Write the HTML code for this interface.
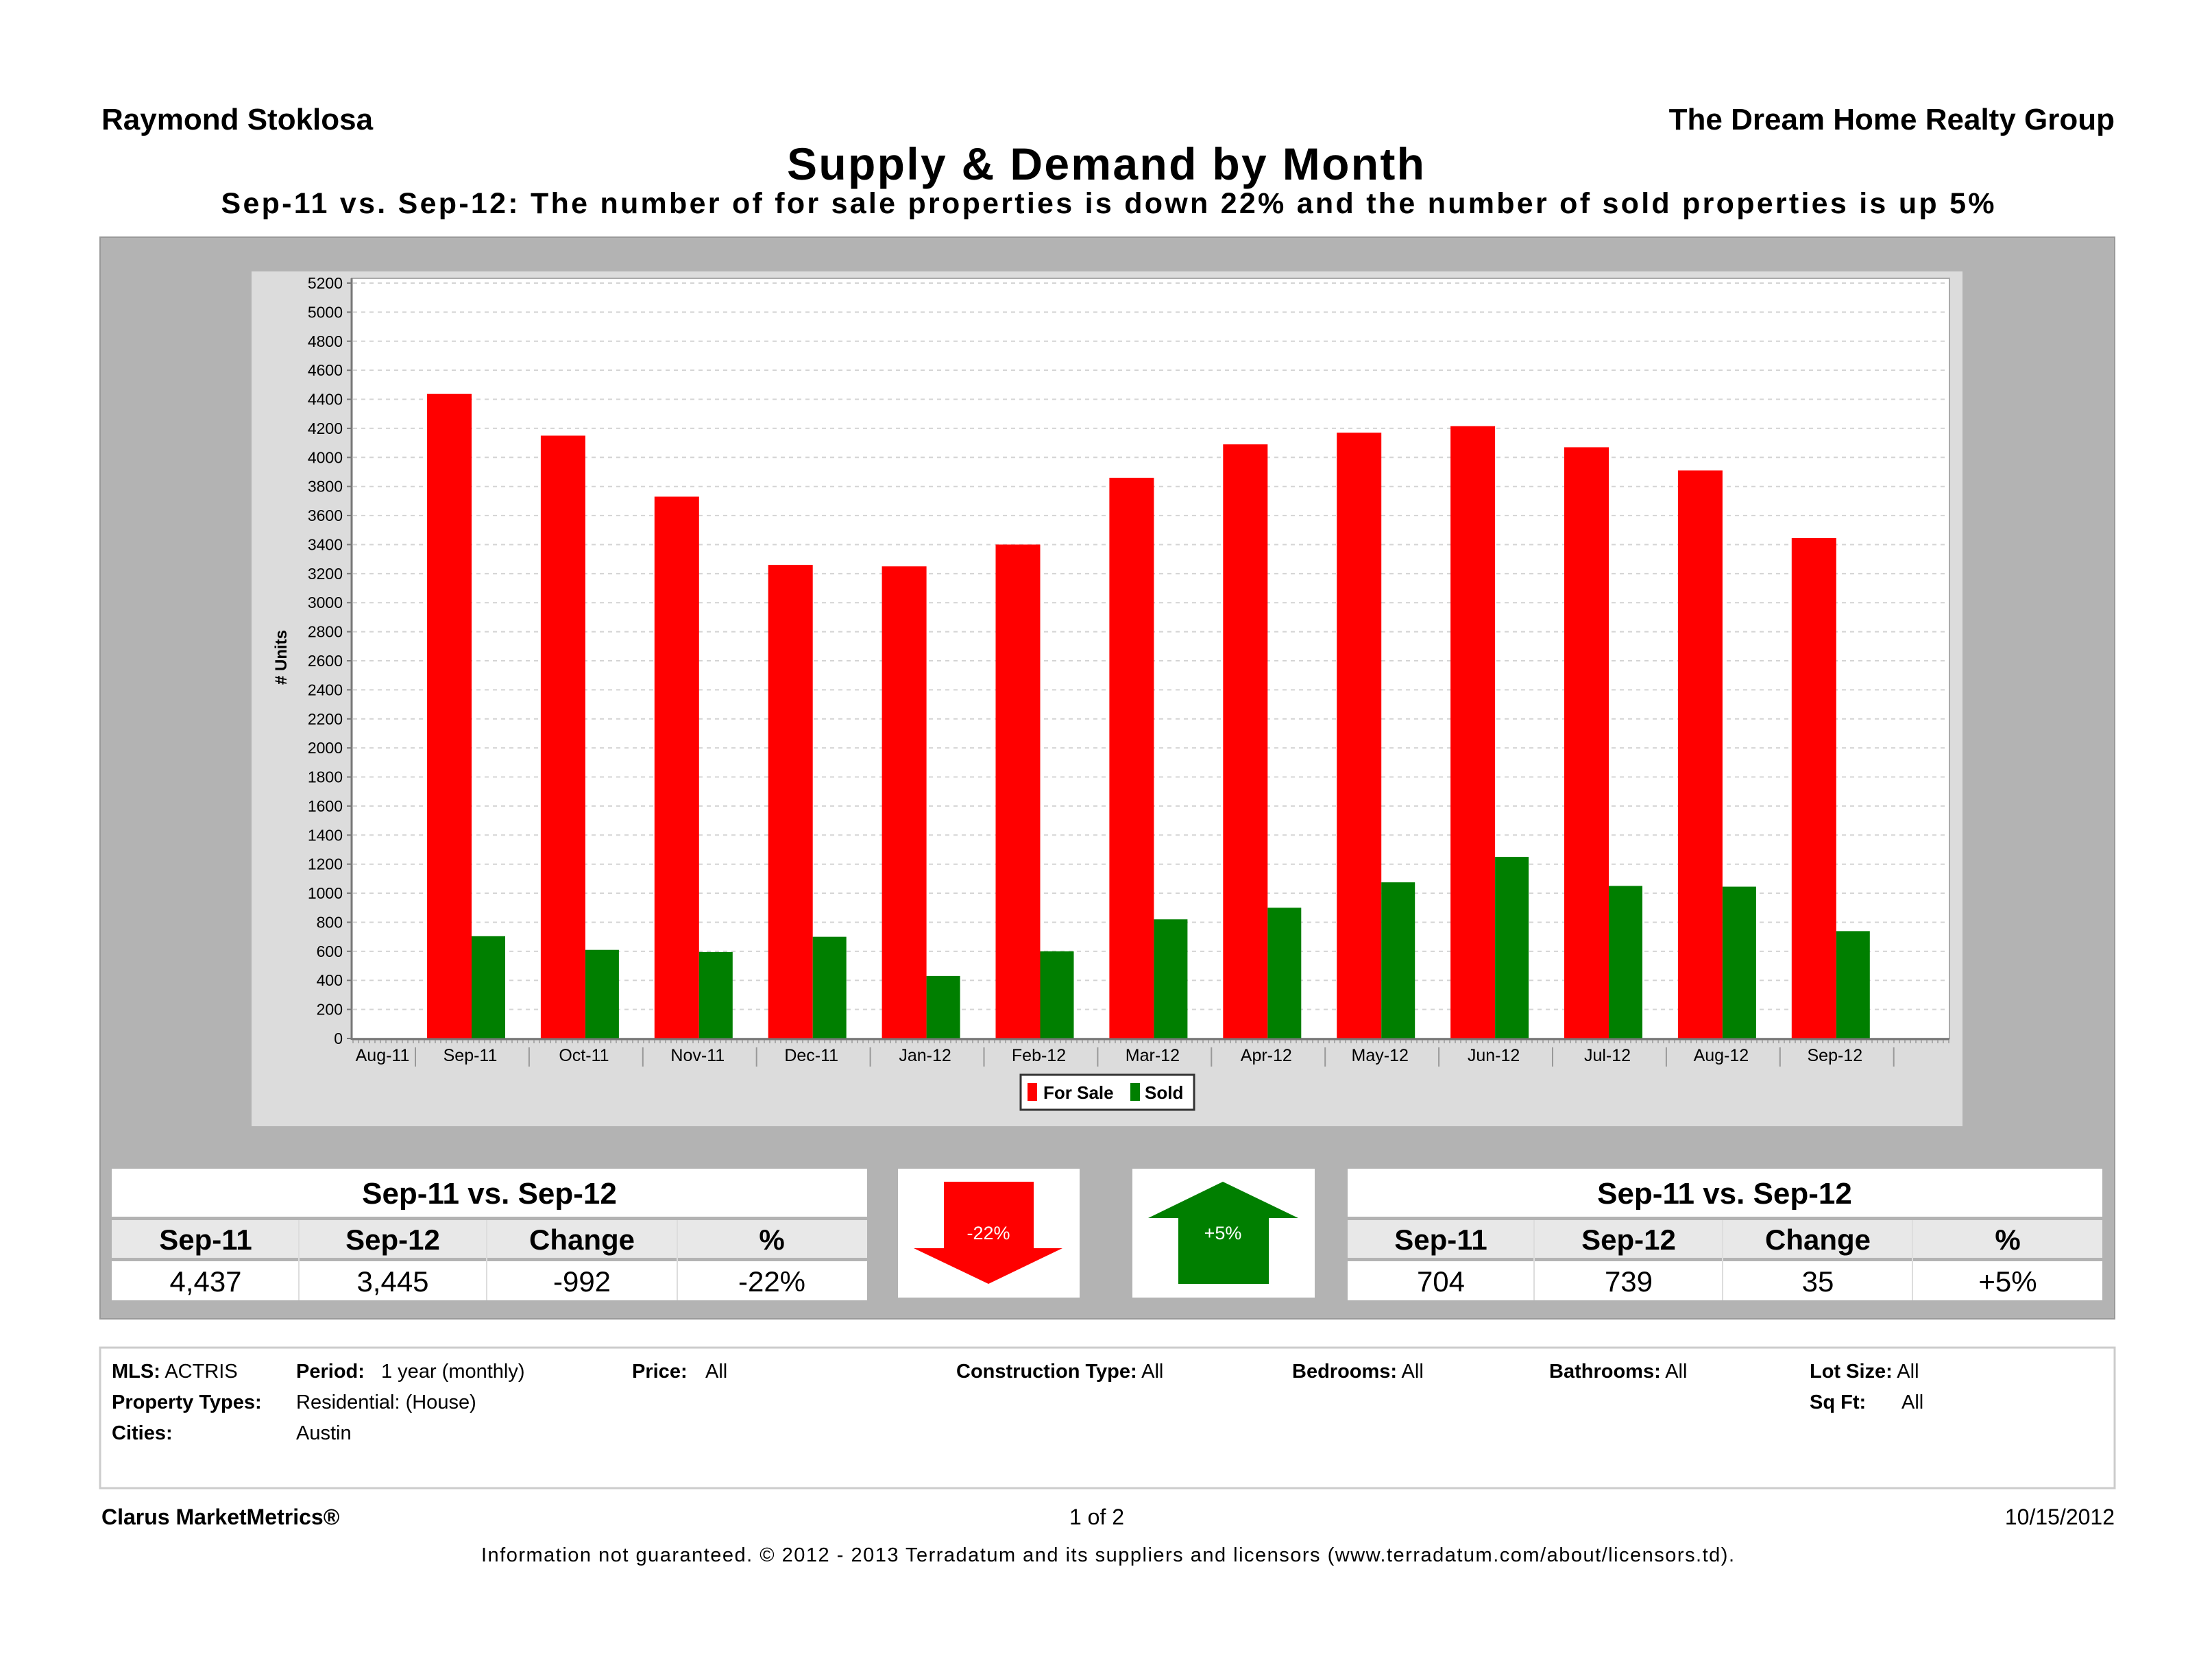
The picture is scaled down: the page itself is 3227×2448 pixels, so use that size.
<!DOCTYPE html>
<html><head><meta charset="utf-8"><style>
html,body{margin:0;padding:0;background:#fff;}
svg{display:block;font-family:"Liberation Sans","DejaVu Sans",sans-serif;}
</style></head><body>
<svg id="page" width="3227" height="2448" viewBox="0 0 3227 2448">
<text x="148" y="189" font-size="44" font-weight="bold">Raymond Stoklosa</text>
<text x="3085" y="189" font-size="44" font-weight="bold" text-anchor="end">The Dream Home Realty Group</text>
<text x="1613" y="262" font-size="66" font-weight="bold" text-anchor="middle" textLength="930">Supply &amp; Demand by Month</text>
<text x="1616" y="311" font-size="43" font-weight="bold" text-anchor="middle" textLength="2587">Sep-11 vs. Sep-12:  The number of for sale properties is down 22% and the number of sold properties is up 5%</text>

<rect x="146" y="346" width="2939" height="1578" fill="#b3b3b3" stroke="#999" stroke-width="2"/>
<rect x="367" y="396" width="2496" height="1247" fill="#dcdcdc"/>
<rect x="513" y="406" width="2331" height="1109" fill="#fff" stroke="#aaa" stroke-width="2"/>
<g id="grid"></g><g id="bars"></g><g id="axes"></g>
<text transform="translate(418,959) rotate(-90)" font-size="24" font-weight="bold" text-anchor="middle"># Units</text>

<g>
<rect x="1489" y="1568" width="253" height="51" fill="#fff" stroke="#333" stroke-width="3"/>
<rect x="1499" y="1580" width="14" height="26" fill="#f00"/>
<text x="1522" y="1603" font-size="26" font-weight="bold">For Sale</text>
<rect x="1649" y="1580" width="14" height="26" fill="#007f00"/>
<text x="1670" y="1603" font-size="26" font-weight="bold">Sold</text>
</g>

<g>
<rect x="163" y="1705" width="1102" height="192" fill="#fff"/>
<rect x="163" y="1775" width="1102" height="5" fill="#b3b3b3"/>
<rect x="163" y="1780" width="1102" height="55" fill="#e8e8e8"/>
<rect x="163" y="1835" width="1102" height="5" fill="#b3b3b3"/>
<line x1="436" y1="1780" x2="436" y2="1897" stroke="#ddd" stroke-width="2"/>
<line x1="710" y1="1780" x2="710" y2="1897" stroke="#ddd" stroke-width="2"/>
<line x1="988" y1="1780" x2="988" y2="1897" stroke="#ddd" stroke-width="2"/>
<text x="714" y="1756" font-size="44" font-weight="bold" text-anchor="middle">Sep-11 vs. Sep-12</text>
<text x="300" y="1823" font-size="42" font-weight="bold" text-anchor="middle">Sep-11</text>
<text x="573" y="1823" font-size="42" font-weight="bold" text-anchor="middle">Sep-12</text>
<text x="849" y="1823" font-size="42" font-weight="bold" text-anchor="middle">Change</text>
<text x="1126" y="1823" font-size="42" font-weight="bold" text-anchor="middle">%</text>
<text x="300" y="1884" font-size="42" text-anchor="middle">4,437</text>
<text x="573" y="1884" font-size="42" text-anchor="middle">3,445</text>
<text x="849" y="1884" font-size="42" text-anchor="middle">-992</text>
<text x="1126" y="1884" font-size="42" text-anchor="middle">-22%</text>
</g>

<rect x="1310" y="1705" width="265" height="188" fill="#fff"/>
<polygon points="1377,1724 1508,1724 1508,1821 1550,1821 1442,1873 1333,1821 1377,1821" fill="#f00"/>
<text x="1442" y="1808" font-size="27" fill="#fff" text-anchor="middle">-22%</text>
<rect x="1652" y="1705" width="266" height="188" fill="#fff"/>
<polygon points="1784,1724 1894,1777 1851,1777 1851,1873 1719,1873 1719,1777 1675,1777" fill="#007f00"/>
<text x="1784" y="1808" font-size="27" fill="#fff" text-anchor="middle">+5%</text>

<g>
<rect x="1966" y="1705" width="1101" height="192" fill="#fff"/>
<rect x="1966" y="1775" width="1101" height="5" fill="#b3b3b3"/>
<rect x="1966" y="1780" width="1101" height="55" fill="#e8e8e8"/>
<rect x="1966" y="1835" width="1101" height="5" fill="#b3b3b3"/>
<line x1="2238" y1="1780" x2="2238" y2="1897" stroke="#ddd" stroke-width="2"/>
<line x1="2513" y1="1780" x2="2513" y2="1897" stroke="#ddd" stroke-width="2"/>
<line x1="2790" y1="1780" x2="2790" y2="1897" stroke="#ddd" stroke-width="2"/>
<text x="2516" y="1756" font-size="44" font-weight="bold" text-anchor="middle">Sep-11 vs. Sep-12</text>
<text x="2102" y="1823" font-size="42" font-weight="bold" text-anchor="middle">Sep-11</text>
<text x="2376" y="1823" font-size="42" font-weight="bold" text-anchor="middle">Sep-12</text>
<text x="2652" y="1823" font-size="42" font-weight="bold" text-anchor="middle">Change</text>
<text x="2929" y="1823" font-size="42" font-weight="bold" text-anchor="middle">%</text>
<text x="2102" y="1884" font-size="42" text-anchor="middle">704</text>
<text x="2376" y="1884" font-size="42" text-anchor="middle">739</text>
<text x="2652" y="1884" font-size="42" text-anchor="middle">35</text>
<text x="2929" y="1884" font-size="42" text-anchor="middle">+5%</text>
</g>

<g font-size="29">
<rect x="146" y="1966" width="2939" height="205" fill="#fff" stroke="#ccc" stroke-width="3"/>
<text x="163" y="2010"><tspan font-weight="bold">MLS:</tspan>  ACTRIS</text>
<text x="432" y="2010" font-weight="bold">Period:</text><text x="556" y="2010">1 year (monthly)</text>
<text x="922" y="2010" font-weight="bold">Price:</text><text x="1029" y="2010">All</text>
<text x="1395" y="2010"><tspan font-weight="bold">Construction Type:</tspan> All</text>
<text x="1885" y="2010"><tspan font-weight="bold">Bedrooms:</tspan>  All</text>
<text x="2260" y="2010"><tspan font-weight="bold">Bathrooms:</tspan> All</text>
<text x="2640" y="2010"><tspan font-weight="bold">Lot Size:</tspan> All</text>
<text x="163" y="2055" font-weight="bold">Property Types:</text><text x="432" y="2055">Residential: (House)</text>
<text x="2640" y="2055" font-weight="bold">Sq Ft:</text><text x="2774" y="2055">All</text>
<text x="163" y="2100" font-weight="bold">Cities:</text><text x="432" y="2100">Austin</text>
</g>
<text x="148" y="2224" font-size="32" font-weight="bold">Clarus MarketMetrics®</text>
<text x="1600" y="2224" font-size="32" text-anchor="middle">1 of 2</text>
<text x="3085" y="2224" font-size="32" text-anchor="end">10/15/2012</text>
<text x="1616" y="2278" font-size="29" text-anchor="middle" textLength="1828">Information not guaranteed.  © 2012 - 2013 Terradatum and its suppliers and licensors (www.terradatum.com/about/licensors.td).</text>
</svg>
<script>
const categories = ["Sep-11","Oct-11","Nov-11","Dec-11","Jan-12","Feb-12","Mar-12","Apr-12","May-12","Jun-12","Jul-12","Aug-12","Sep-12"];
const forSale = [4437,4150,3730,3260,3250,3400,3860,4090,4170,4215,4070,3910,3445];
const sold = [704,610,595,700,430,600,820,900,1075,1250,1050,1045,739];
const yTicks = [0,200,400,600,800,1000,1200,1400,1600,1800,2000,2200,2400,2600,2800,3000,3200,3400,3600,3800,4000,4200,4400,4600,4800,5000,5200];
const firstLabel = "Aug-11";

const NS = "http://www.w3.org/2000/svg";
const y0 = 1515, pxPerUnit = (1515-413)/5200;
function yScale(v){ return y0 - v*pxPerUnit; }
function xScale(i){ return 623 + 165.9*i; }
const redW = 65, greenW = 49;
function mk(tag, attrs, parent){ const e=document.createElementNS(NS,tag); for(const k in attrs) e.setAttribute(k,attrs[k]); parent.appendChild(e); return e; }
const grid=document.getElementById('grid'), bars=document.getElementById('bars'), axes=document.getElementById('axes');

yTicks.forEach(t=>{
  const y=yScale(t);
  if(t>0){ const gl=mk('line',{x1:515,x2:2842,y1:y,y2:y,stroke:'#d4d4d4','stroke-width':2,'stroke-dasharray':'6,6'},grid);
    
     }
  const tk=mk('line',{x1:506,x2:513,y1:y,y2:y,stroke:'#777','stroke-width':2},axes);
  
  
  const lb=mk('text',{x:500,y:y+8,'font-size':23,'text-anchor':'end'},axes);
  lb.textContent=t;
  
  
});
const ax=mk('line',{x1:513,x2:513,y1:406,y2:1517,stroke:'#777','stroke-width':3},axes);


const bx=mk('line',{x1:513,x2:2844,y1:1516,y2:1516,stroke:'#777','stroke-width':3},axes);


for(let x=515;x<2844;x+=8){ const m=mk('line',{x1:x,x2:x,y1:1517,y2:1522,stroke:'#999','stroke-width':1.5},axes);
  
   }

const l0=mk('text',{x:558,y:1548,'font-size':25,'text-anchor':'middle'},axes);
l0.textContent=firstLabel;


categories.forEach((c,i)=>{
  const x=xScale(i);
  const r=mk('rect',{x:x,y:yScale(forSale[i]),width:redW,height:y0-yScale(forSale[i]),fill:'#ff0000'},bars);
  
  
  const g=mk('rect',{x:x+redW,y:yScale(sold[i]),width:greenW,height:y0-yScale(sold[i]),fill:'#007f00'},bars);
  
  
  const sep=mk('line',{x1:x-17,x2:x-17,y1:1528,y2:1556,stroke:'#999','stroke-width':2},axes);
  
  
  const lb=mk('text',{x:x+redW-2,y:1548,'font-size':25,'text-anchor':'middle'},axes);
  lb.textContent=c;
  
  
});
const last=mk('line',{x1:xScale(13)-17,x2:xScale(13)-17,y1:1528,y2:1556,stroke:'#999','stroke-width':2},axes);


const s0=mk('line',{x1:606,x2:606,y1:1528,y2:1556,stroke:'#999','stroke-width':2},axes);


</script>
</body></html>
